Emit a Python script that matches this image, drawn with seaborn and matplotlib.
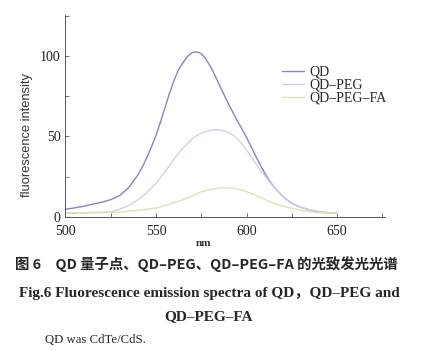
import matplotlib
matplotlib.use("Agg")
import matplotlib.pyplot as plt
from matplotlib.ticker import MultipleLocator
import pandas as pd
import seaborn as sns

# wavelength grid (nm) and intensities
WAVELENGTH = [500, 505, 510, 515, 520, 525, 530, 535,
              540, 542.5, 545, 547.5, 550, 552.5, 555, 557.5, 560, 562.5, 565, 567.5,
              570, 572.5, 575, 577.5, 580, 582.5, 585, 587.5, 590, 592.5, 595, 597.5,
              600, 602.5, 605, 607.5, 610, 612.5, 615,
              620, 625, 630, 635, 640, 645, 650]
QD = [4.6, 5.5, 6.5, 7.8, 9, 10.6, 13.2, 18.2,
      26, 31, 37, 43.5, 50.5, 59, 68, 77, 85, 91.5, 96, 99.8,
      102.2, 102.6, 101.5, 98.2, 93.5, 88, 82, 76, 70.2, 64.8, 59.5, 54.5,
      49.3, 43.6, 37.8, 32.3, 27.2, 22.6, 18.7,
      12.5, 8.3, 5.8, 4.2, 3, 2.4, 2]
QD_PEG = [2.1, 2.2, 2.4, 2.6, 2.8, 3.2, 4.6, 7,
          10.5, 12.7, 15, 17.8, 20.8, 24.3, 28, 32, 36, 39.5, 42.8, 45.8,
          48.5, 50.5, 52, 53, 53.8, 54.1, 54, 53.5, 52.5, 50.8, 48.5, 45.3,
          41.5, 37.3, 33, 29.2, 25.5, 22, 18.5,
          12.5, 8.3, 5.8, 4.2, 3, 2.4, 2]
QD_PEG_FA = [2.5, 2.5, 2.5, 2.5, 2.5, 2.6, 2.9, 3.4,
             4, 4.3, 4.6, 5, 5.4, 6.1, 7, 7.8, 8.7, 9.7, 10.7, 11.8,
             13, 14.3, 15.5, 16.3, 17, 17.5, 17.8, 18, 18, 17.7, 17.2, 16.5,
             15.6, 14.5, 13.3, 12, 10.8, 9.5, 8.3,
             6.5, 5.2, 4, 3.1, 2.5, 2.2, 2]
SERIES = ["QD", "QD\u2013PEG", "QD\u2013PEG\u2013FA"]
COLORS = ["#8a85bd", "#d4cfe8", "#e3e0b4"]

df = pd.concat([
    pd.DataFrame({"nm": WAVELENGTH, "intensity": vals, "sample": name})
    for name, vals in zip(SERIES, [QD, QD_PEG, QD_PEG_FA])
], ignore_index=True)

sns.set_style("ticks")
plt.rcParams["font.family"] = ["Liberation Serif", "Noto Sans CJK SC", "DejaVu Sans"]

fig = plt.figure(figsize=(4.39, 3.51), dpi=100)
ax = fig.add_axes([0.149, 0.3826, 0.728, 0.5746])

sns.lineplot(data=df, x="nm", y="intensity", hue="sample", palette=COLORS,
             hue_order=SERIES, ax=ax, linewidth=1.0)

ax.set_xlim(500, 676.4)
ax.set_ylim(0, 125.5)
ax.xaxis.set_major_locator(MultipleLocator(50))
ax.xaxis.set_minor_locator(MultipleLocator(25))
ax.yaxis.set_major_locator(MultipleLocator(50))
ax.yaxis.set_minor_locator(MultipleLocator(25))
ax.tick_params(which="both", direction="in", length=3, width=0.6, colors="#555566",
               labelcolor="#222222", labelsize=10)
ax.tick_params(axis="x", pad=6)
for side in ["top", "right"]:
    ax.spines[side].set_visible(False)
for side in ["left", "bottom"]:
    ax.spines[side].set_color("#555566")
    ax.spines[side].set_linewidth(0.7)

ax.set_xlabel("nm", fontsize=8, fontweight="bold", color="#333333")
ax.xaxis.set_label_coords(0.431, -0.11)
ax.set_ylabel("fluorescence intensity", fontsize=9.3, family="Liberation Sans",
              color="#333333")
ax.yaxis.set_label_coords(-0.101, 0.405)

leg = ax.legend(loc="upper left", bbox_to_anchor=(0.66, 0.775), frameon=False,
                fontsize=10, handlelength=1.6, handletextpad=0.4,
                labelspacing=0.0, borderaxespad=0)

fig.text(0.47, 0.248, "图 6\u3000QD 量子点、QD–PEG、QD–PEG–FA 的光致发光光谱",
         ha="center", va="center", fontsize=10.4, fontweight="bold",
         family=["Noto Sans CJK SC", "DejaVu Sans"])
fig.text(0.476, 0.165, "Fig.6 Fluorescence emission spectra of QD，QD–PEG and",
         ha="center", va="center", fontsize=11, fontweight="bold")
fig.text(0.476, 0.097, "QD–PEG–FA", ha="center", va="center",
         fontsize=11, fontweight="bold")
fig.text(0.103, 0.031, "QD was CdTe/CdS.", ha="left", va="center", fontsize=9.2)

fig.savefig("out.png", dpi=100)
